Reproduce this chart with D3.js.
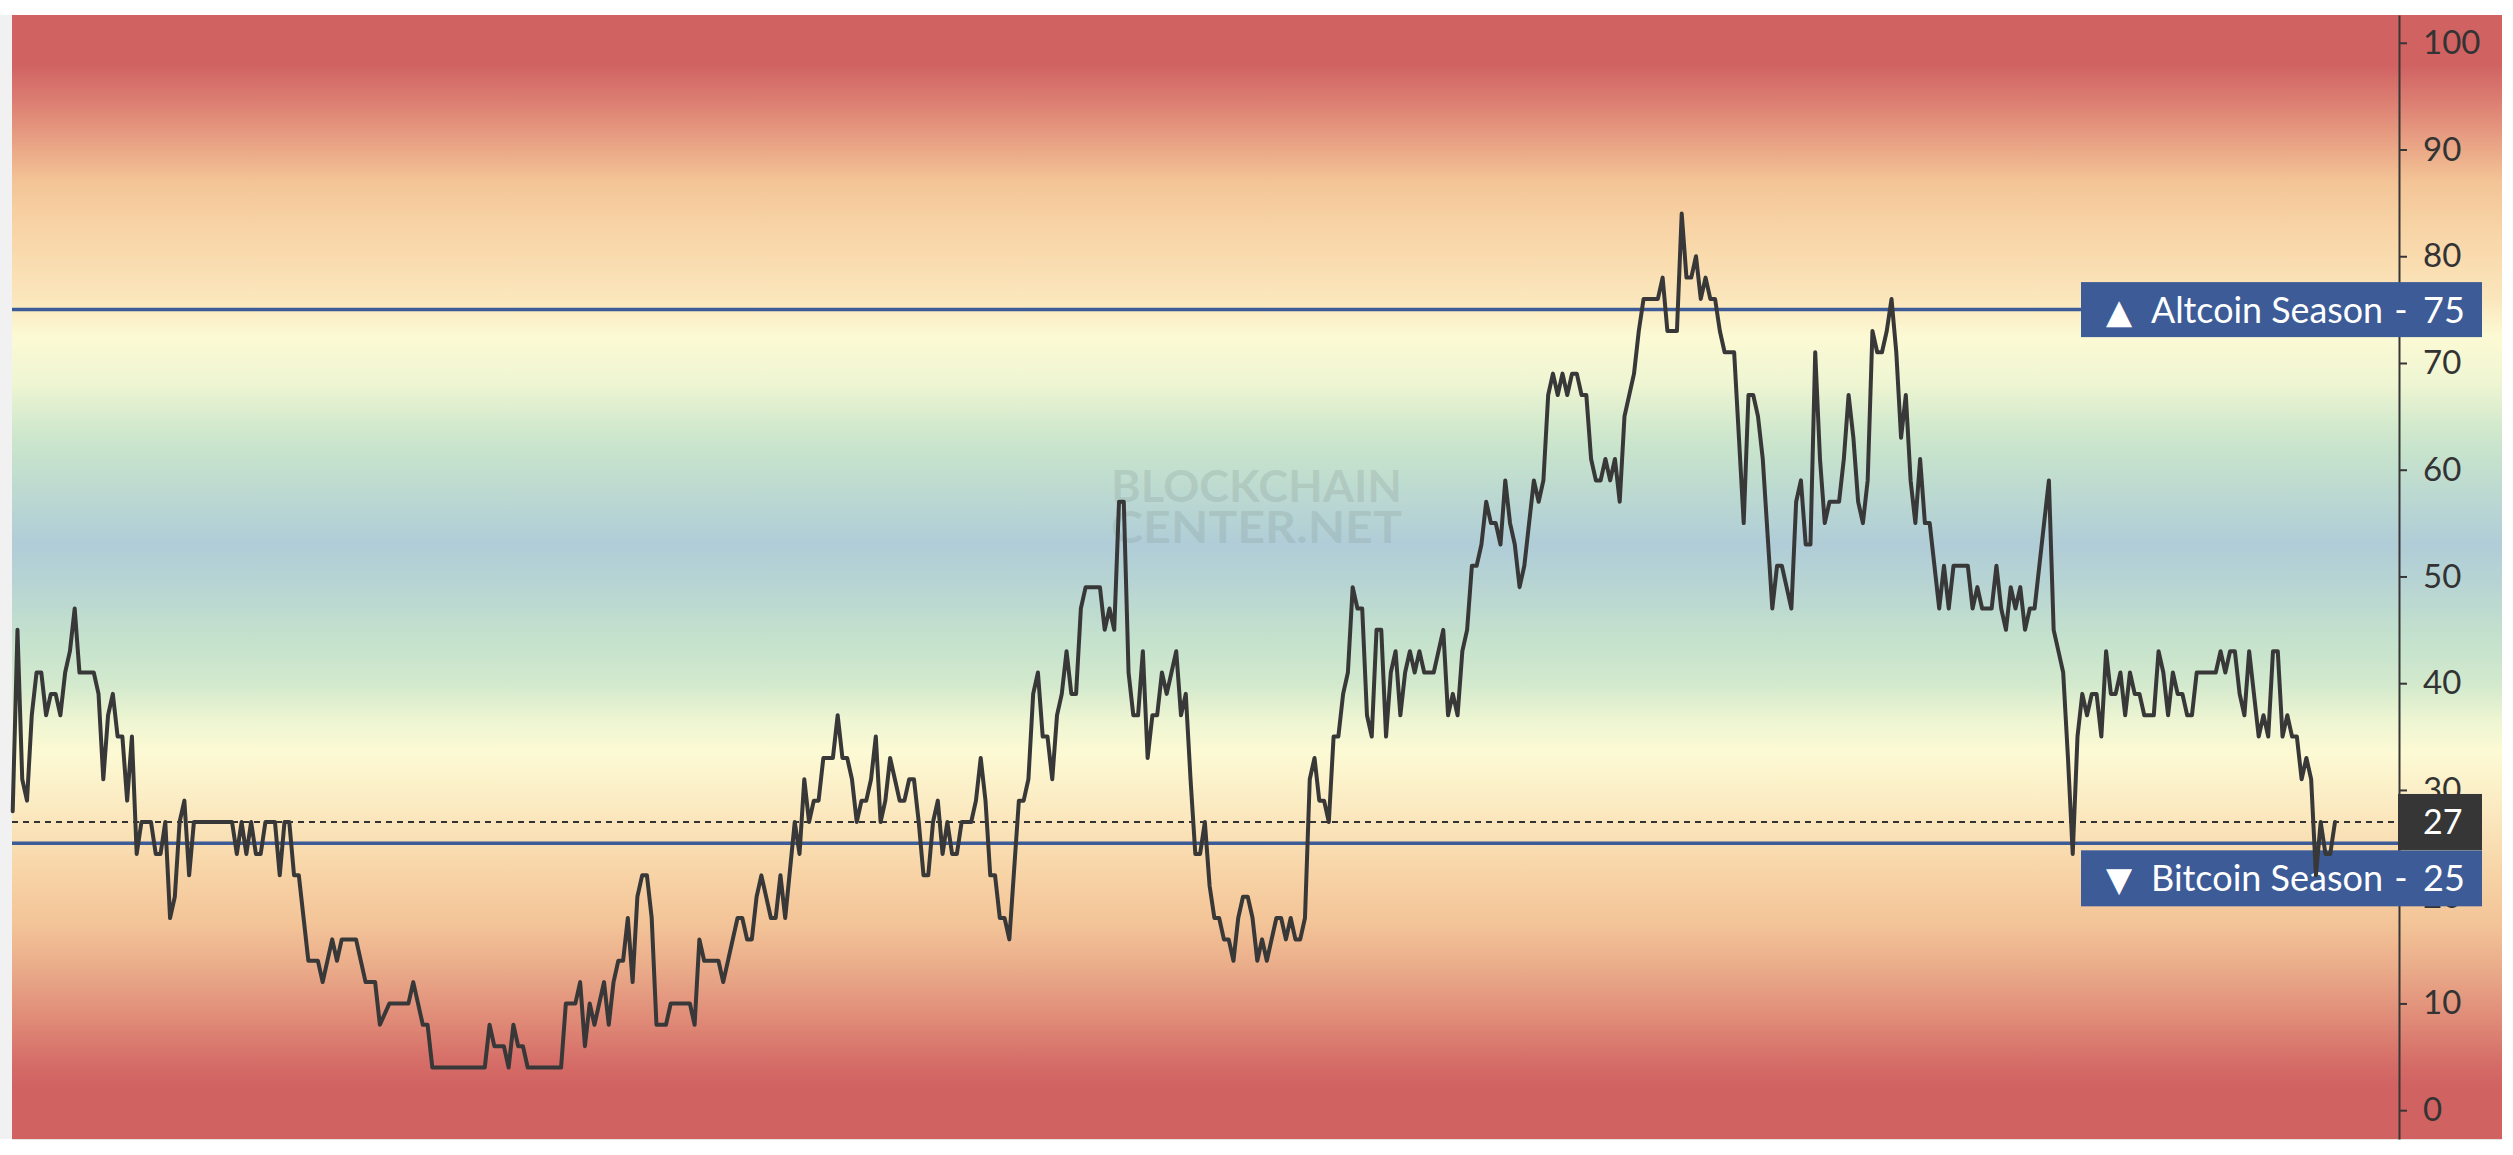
<!DOCTYPE html>
<html>
<head>
<meta charset="utf-8">
<script src="https://cdn.jsdelivr.net/npm/d3@7"></script>
<style>
  html, body { margin: 0; padding: 0; background: #ffffff; }
  svg { display: block; }
</style>
</head>
<body>
<svg id="chart" width="2513" height="1155"></svg>
<script>
// ---------------- DATA ----------------
// day index of each vertex of the index line
const days = [
  0,1,2,3,4,5,6,7,8,9,10,11,12,13,14,17,18,19,20,21,22,23,24,25,26,27,29,30,31,32,33,34,35,36,37,38,46,47,48,49,50,51,52,53,55,56,57,58,59,60,62,64,65,67,68,69,72,74,76,77,79,83,84,86,87,88,99,100,101,103,104,105,106,107,108,115,116,118,119,120,121,122,124,125,126,127,128,129,130,131,132,133,134,135,137,138,142,143,144,145,148,149,152,153,154,155,156,157,159,160,161,162,164,165,166,167,168,169,170,172,173,174,175,176,177,178,179,180,181,182,183,184,185,186,187,188,189,190,191,192,193,194,195,196,197,198,199,201,202,203,204,205,206,207,208,209,211,212,213,214,215,216,217,218,219,220,221,222,223,224,225,228,229,230,231,232,233,234,235,236,237,238,239,240,241,242,243,244,245,246,247,248,249,250,251,252,253,254,255,256,257,258,259,260,261,262,263,264,265,266,267,268,269,270,271,272,273,274,275,276,277,278,279,280,281,282,283,284,285,286,287,288,289,290,291,292,293,294,295,296,298,299,300,301,302,303,304,305,306,307,308,309,310,311,312,313,314,315,316,317,318,319,320,321,322,323,324,325,326,327,328,329,330,331,332,333,334,335,336,337,338,339,340,341,342,345,346,347,349,350,351,352,353,354,355,356,357,358,359,361,362,363,364,365,366,367,368,369,370,371,372,373,374,375,376,377,378,379,380,381,383,384,385,386,387,388,389,390,391,392,393,394,395,396,397,398,399,400,401,402,403,404,405,406,407,410,411,412,413,415,416,417,418,419,420,421,422,423,424,425,426,427,428,429,430,431,432,433,434,435,436,437,438,439,440,441,442,443,444,445,446,447,449,450,451,452,453,454,455,456,457,458,462,463,464,465,466,467,468,469,470,471,472,473,474,475,476,477,478,479,480,481,482,483,484,485,486,487
];
// altcoin season index value at each vertex
const values = [
  28,45,31,29,37,41,41,37,39,39,37,41,43,47,41,41,39,31,37,39,35,35,29,35,24,27,27,24,24,27,18,20,27,29,22,27,27,24,27,24,27,24,24,27,27,22,27,27,22,22,14,14,12,16,14,16,16,12,12,8,10,10,12,8,8,4,4,8,6,6,4,8,6,6,4,4,10,10,12,6,10,8,12,8,12,14,14,18,12,20,22,22,18,8,8,10,10,8,16,14,14,12,18,18,16,16,20,22,18,18,22,18,27,24,31,27,29,29,33,33,37,33,33,31,27,29,29,31,35,27,29,33,31,29,29,31,31,27,22,22,27,29,24,27,24,24,27,27,29,33,29,22,22,18,18,16,29,29,31,39,41,35,35,31,37,39,43,39,39,47,49,49,45,47,45,57,57,41,37,37,43,33,37,37,41,39,41,43,37,39,31,24,24,27,21,18,18,16,16,14,18,20,20,18,14,16,14,16,18,18,16,18,16,16,18,31,33,29,29,27,35,35,39,41,49,47,47,37,35,45,45,35,41,43,37,41,43,41,43,41,41,43,45,37,39,37,43,45,51,51,53,57,55,55,53,59,55,53,49,51,55,59,57,59,67,69,67,69,67,69,69,67,67,61,59,59,61,59,61,57,65,67,69,73,76,76,78,73,73,84,78,78,80,76,78,76,76,73,71,71,63,55,67,67,65,61,54,47,51,51,49,47,57,59,53,53,71,61,55,57,57,61,67,63,57,55,59,73,71,71,73,76,71,63,67,59,55,61,55,55,51,47,51,47,51,51,47,49,47,47,51,47,45,49,47,49,45,47,47,51,55,59,45,43,41,33,24,35,39,37,39,39,35,43,39,39,41,37,41,39,39,37,37,43,41,37,41,39,39,37,37,41,41,43,41,43,43,39,37,43,39,35,37,35,43,43,35,37,35,35,31,33,31,22,27,24,24,27
];
const yTicks = [0, 10, 20, 30, 40, 50, 60, 70, 80, 90, 100];
const altcoinLevel = 75;
const bitcoinLevel = 25;
const currentValue = values[values.length - 1];
const altcoinLabel = "Altcoin Season";
const bitcoinLabel = "Bitcoin Season";
const watermarkLines = ["BLOCKCHAIN", "CENTER.NET"];
// background colour bands, by index value
const bandValues = [103, 98, 94.5, 91.5, 87, 83.5, 80, 76, 72.5, 68, 64, 62, 57, 53, 49, 44, 40, 36.5, 33.5, 28, 22, 17.5, 13.4, 8.7, 4, 2, -3];
const bandColors = ["#d06262","#d06262","#dc7e72","#e69a80","#f3c496","#f7d1a3","#f9dbae","#fbe6bc","#fcfad4","#eef5d2","#d2e9cd","#c8e4cc","#bad7d2","#b0cdd8","#b8d5d3","#c5e2cd","#d2e9cd","#eef5d2","#fcfad4","#fbe9c0","#f7d3a5","#f3c498","#eaac8a","#e08c78","#d46a66","#d06262","#d06262"];

// ---------------- LAYOUT ----------------
const W = 2513, H = 1155;
const plot = { left: 12, top: 15, right: 2502, bottom: 1139 };
const axisX = 2399;
const FONT = "Lato, 'Open Sans', 'DejaVu Sans', sans-serif";

const svg = d3.select("#chart");

const y = d3.scaleLinear().domain([-2.7, 102.6]).range([plot.bottom, plot.top]);
const x = d3.scaleLinear().domain(d3.extent(days)).range([12.7, 2335]);

// page edges
svg.append("rect").attr("x", 0).attr("y", 0).attr("width", W).attr("height", H).attr("fill", "#ffffff");
svg.append("rect").attr("x", 0).attr("y", plot.top).attr("width", plot.left).attr("height", plot.bottom - plot.top).attr("fill", "#f1f1f1");

// gradient background
const defs = svg.append("defs");
const grad = defs.append("linearGradient")
  .attr("id", "bg").attr("gradientUnits", "userSpaceOnUse")
  .attr("x1", 0).attr("x2", 0).attr("y1", y(bandValues[0])).attr("y2", y(bandValues[bandValues.length - 1]));
const g0 = y(bandValues[0]), g1 = y(bandValues[bandValues.length - 1]);
bandValues.forEach((v, i) => {
  grad.append("stop").attr("offset", ((y(v) - g0) / (g1 - g0))).attr("stop-color", bandColors[i]);
});
svg.append("rect")
  .attr("x", plot.left).attr("y", plot.top)
  .attr("width", plot.right - plot.left).attr("height", plot.bottom - plot.top)
  .attr("fill", "url(#bg)");
svg.append("line").attr("x1", plot.left).attr("x2", plot.right)
  .attr("y1", plot.bottom + 0.5).attr("y2", plot.bottom + 0.5).attr("stroke", "#e4e4e4").attr("stroke-width", 1);

// watermark
const wm = svg.append("g").attr("fill", "#7e8f8b").attr("fill-opacity", 0.22)
  .style("font-family", FONT).style("font-weight", 700).style("font-size", "44px");
wm.selectAll("text").data(watermarkLines).join("text")
  .attr("x", 1111).attr("y", (d, i) => 502 + i * 41)
  .attr("textLength", 291).attr("lengthAdjust", "spacingAndGlyphs")
  .text(d => d);

// right axis
const axis = svg.append("g").attr("transform", `translate(${axisX},0)`)
  .call(d3.axisRight(y).tickValues(yTicks).tickSize(8).tickSizeOuter(0).tickPadding(16));
axis.select(".domain").attr("stroke", "#363636").attr("stroke-width", 2);
axis.selectAll(".tick line").attr("stroke", "#363636").attr("stroke-width", 2);
axis.selectAll(".tick text").attr("fill", "#333").style("font-family", FONT).style("font-size", "33px");

// threshold lines
[altcoinLevel, bitcoinLevel].forEach(v => {
  svg.append("line").attr("x1", plot.left).attr("x2", axisX)
    .attr("y1", y(v)).attr("y2", y(v))
    .attr("stroke", "#3d5b96").attr("stroke-width", 3.5);
});
// current value dotted line
svg.append("line").attr("x1", plot.left).attr("x2", axisX)
  .attr("y1", y(currentValue)).attr("y2", y(currentValue))
  .attr("stroke", "#333").attr("stroke-width", 2).attr("stroke-dasharray", "6,5");

// labels
function seasonBox(level, label, tri, top, h) {
  const g = svg.append("g");
  g.append("rect").attr("x", 2081).attr("y", top).attr("width", 2482 - 2081).attr("height", h).attr("fill", "#3d5b96");
  const base = top + h / 2 + 13;
  g.append("text").attr("x", 2106).attr("y", base).attr("fill", "#fff")
    .style("font-family", "'DejaVu Sans', sans-serif").style("font-size", "34px").text(tri);
  g.append("text").attr("x", 2151).attr("y", base).attr("fill", "#fff")
    .attr("textLength", 232).attr("lengthAdjust", "spacingAndGlyphs")
    .style("font-family", FONT).style("font-size", "36px").text(label);
  g.append("text").attr("x", 2401).attr("y", base).attr("fill", "#fff").attr("text-anchor", "middle")
    .style("font-family", FONT).style("font-size", "36px").text("-");
  g.append("text").attr("x", 2423).attr("y", base).attr("fill", "#fff")
    .style("font-family", FONT).style("font-size", "36px").text(level);
}
seasonBox(altcoinLevel, altcoinLabel, "\u25B2", y(altcoinLevel) - 27.5, 55);
seasonBox(bitcoinLevel, bitcoinLabel, "\u25BC", y(bitcoinLevel) + 7, 56);

// current value box
svg.append("rect").attr("x", 2398).attr("y", y(currentValue) - 28).attr("width", 84).attr("height", 56).attr("fill", "#363636");
svg.append("text").attr("x", 2423).attr("y", y(currentValue) + 12).attr("fill", "#fff")
  .style("font-family", FONT).style("font-size", "34px").text(currentValue);

// index line
const series = days.map((d, i) => ({ d, v: values[i] }));
svg.append("path").datum(series)
  .attr("fill", "none").attr("stroke", "#383838").attr("stroke-width", 4)
  .attr("stroke-linejoin", "round").attr("stroke-linecap", "round")
  .attr("d", d3.line().x(p => x(p.d)).y(p => y(p.v)));
</script>
</body>
</html>
